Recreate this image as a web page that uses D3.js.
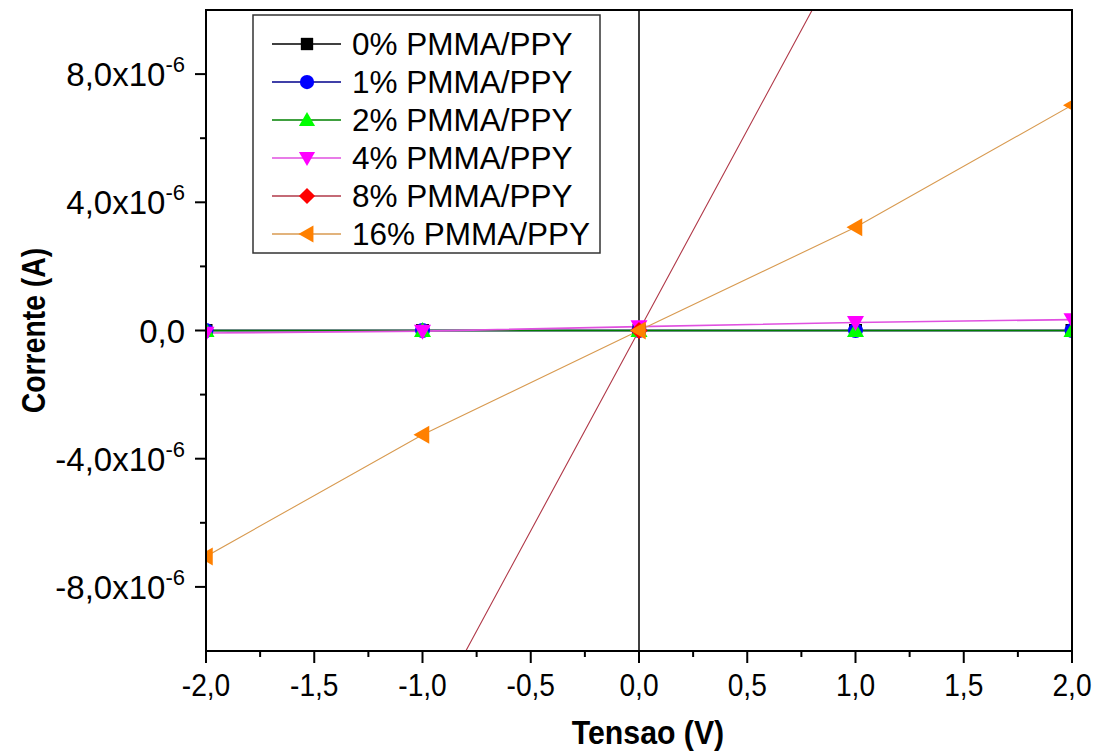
<!DOCTYPE html>
<html><head><meta charset="utf-8">
<script src="https://cdn.jsdelivr.net/npm/d3@7"></script>
<style>body{margin:0;background:#fff}svg{display:block}text{font-family:"Liberation Sans",Arial,sans-serif}</style>
</head><body><svg id="c" width="1105" height="751"></svg>
<script>
const voltages = [-2, -1, 0, 1, 2];
const seriesNames = ["0% PMMA/PPY","1% PMMA/PPY","2% PMMA/PPY","4% PMMA/PPY","8% PMMA/PPY","16% PMMA/PPY"];
const s0 = [0, 0, 0, 0, 0];
const s1 = [0, 0, 0, 0, 0];
const s2 = [0, 0, 0, 0, 0];
const s4 = [-0.08e-6, -0.02e-6, 0.12e-6, 0.25e-6, 0.34e-6];
const s8 = [-2.5e-5, -1.25e-5, 0, 1.25e-5, 2.5e-5];
const s16 = [-7.05e-6, -3.25e-6, 0, 3.22e-6, 7.03e-6];
const xTicks = [-2,-1.5,-1,-0.5,0,0.5,1,1.5,2];
const xMinor = [-1.75,-1.25,-0.75,-0.25,0.25,0.75,1.25,1.75];
const yTicks = [-8e-6,-4e-6,0,4e-6,8e-6];
const yMinor = [-6e-6,-2e-6,2e-6,6e-6];
const yTickMantissa = ["-8,0","-4,0","0,0","4,0","8,0"];
const markerColors = ["#000000","#0000ff","#00ff00","#ff00ff","#ff0000","#ff8000"];
const lineColors = ["#000000","#00008b","#008000","#e050e0","#b03848","#d89a50"];
const shapes = ["square","circle","up","down","diamond","left"];

const allSeries = [s0,s1,s2,s4,s8,s16];
const L=206,R=1072,T=10,B=651;
const x = d3.scaleLinear().domain([-2,2]).range([L,R]);
const y = d3.scaleLinear().domain([-1e-5,1e-5]).range([B,T]);
const svg = d3.select("#c");

svg.append("defs").append("clipPath").attr("id","clip").append("rect")
  .attr("x",L).attr("y",T).attr("width",R-L).attr("height",B-T);

function shapePath(s, r){
  switch(s){
    case "square": return `M${-r},${-r}h${2*r}v${2*r}h${-2*r}Z`;
    case "circle": return `M${r},0A${r},${r} 0 1,1 ${-r},0A${r},${r} 0 1,1 ${r},0Z`;
    case "up": return `M0,${-r}L${r},${r*0.75}L${-r},${r*0.75}Z`;
    case "down": return `M0,${r}L${r},${-r*0.75}L${-r},${-r*0.75}Z`;
    case "diamond": return `M0,${-r}L${r},0L0,${r}L${-r},0Z`;
    case "left": return `M${-r},0L${r*0.75},${-r}L${r*0.75},${r}Z`;
  }
}
const markerR = {square:6.5,circle:7.5,up:8.5,down:8.5,diamond:8.5,left:9};

// zero line vertical
svg.append("line").attr("x1",x(0)).attr("x2",x(0)).attr("y1",T).attr("y2",B)
  .attr("stroke","#000").attr("stroke-width",1.5);

const plot = svg.append("g").attr("clip-path","url(#clip)");
const line = d3.line().x((d,i)=>x(voltages[i])).y(d=>y(d));
allSeries.forEach((s,k)=>{
  plot.append("path").datum(s).attr("d",line).attr("fill","none")
    .attr("stroke",lineColors[k]).attr("stroke-width",k>=4?1.1:1.6);
});
allSeries.forEach((s,k)=>{
  plot.selectAll(null).data(s).join("path")
    .attr("transform",(d,i)=>`translate(${x(voltages[i])},${y(d)})`)
    .attr("d",shapePath(shapes[k],markerR[shapes[k]]))
    .attr("fill",markerColors[k]);
});

// frame
svg.append("rect").attr("x",L).attr("y",T).attr("width",R-L).attr("height",B-T)
  .attr("fill","none").attr("stroke","#000").attr("stroke-width",2);

// x axis ticks
const gx = svg.append("g");
gx.selectAll(null).data(xTicks).join("line").attr("x1",d=>x(d)).attr("x2",d=>x(d))
  .attr("y1",B).attr("y2",B+12).attr("stroke","#000").attr("stroke-width",2);
gx.selectAll(null).data(xMinor).join("line").attr("x1",d=>x(d)).attr("x2",d=>x(d))
  .attr("y1",B).attr("y2",B+6).attr("stroke","#000").attr("stroke-width",2);
gx.selectAll(null).data(xTicks).join("text")
  .attr("transform",d=>`translate(${x(d)},${B+45}) scale(0.88,1)`)
  .attr("text-anchor","middle").attr("font-size",32)
  .text(d=>d3.format(".1f")(d).replace("−","-").replace(".",","));

// y axis ticks
const gy = svg.append("g");
gy.selectAll(null).data(yTicks).join("line").attr("x1",L-11).attr("x2",L)
  .attr("y1",d=>y(d)).attr("y2",d=>y(d)).attr("stroke","#000").attr("stroke-width",2);
gy.selectAll(null).data(yMinor).join("line").attr("x1",L-6).attr("x2",L)
  .attr("y1",d=>y(d)).attr("y2",d=>y(d)).attr("stroke","#000").attr("stroke-width",2);
const yl = gy.selectAll(null).data(yTicks).join("text").attr("x",L-21).attr("y",d=>y(d)+12)
  .attr("text-anchor","end").attr("font-size",33);
yl.each(function(d,i){
  const t=d3.select(this);
  if(d===0){t.text(yTickMantissa[i]);return;}
  t.append("tspan").text(yTickMantissa[i]+"x10");
  t.append("tspan").attr("dy",-14).attr("font-size",22).text("-6");
});

// axis titles
svg.append("text").attr("text-anchor","middle")
  .attr("font-size",34).attr("font-weight","bold")
  .attr("transform",`translate(648,744) scale(0.89,1)`)
  .text("Tensao (V)");
svg.append("text").attr("transform",`translate(45,${(T+B)/2}) rotate(-90) scale(0.86,1)`)
  .attr("text-anchor","middle").attr("font-size",33).attr("font-weight","bold")
  .text("Corrente (A)");

// legend
const lg = svg.append("g");
lg.append("rect").attr("x",253).attr("y",15).attr("width",347).attr("height",238)
  .attr("fill","#fff").attr("stroke","#333").attr("stroke-width",1.5);
seriesNames.forEach((n,k)=>{
  const cy = 44 + k*38;
  lg.append("line").attr("x1",272).attr("x2",341).attr("y1",cy).attr("y2",cy)
    .attr("stroke",lineColors[k]).attr("stroke-width",1.4);
  lg.append("path").attr("transform",`translate(307,${cy})`)
    .attr("d",shapePath(shapes[k],markerR[shapes[k]]*0.95)).attr("fill",markerColors[k]);
  lg.append("text").attr("x",352).attr("y",cy+11).attr("font-size",31.5).text(n);
});
</script></body></html>
